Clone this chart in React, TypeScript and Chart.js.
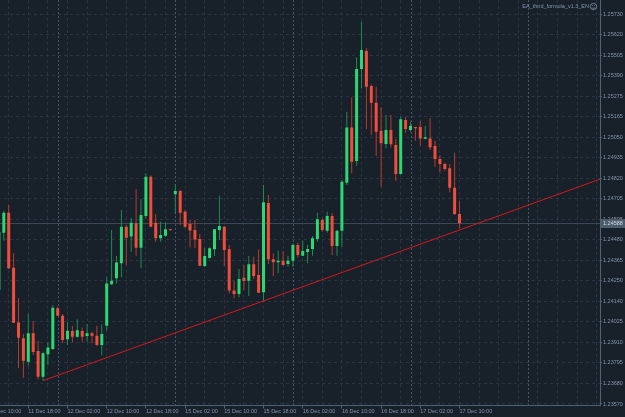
import React, { useEffect, useRef } from "react";
import { Chart, registerables } from "chart.js";

Chart.register(...registerables);

// ---- data (hourly candles, index 93 = 17 Dec 10:00) ----
const FIRST_CANDLE = -1;
const OPEN = [
  1.24201, 1.24519, 1.24629, 1.24325, 1.24022, 1.23934, 1.23804, 1.23962, 1.23864, 1.23721,
  1.23846, 1.23875, 1.24100, 1.24059, 1.23928, 1.23974, 1.23943, 1.23974, 1.23947, 1.23962,
  1.23948, 1.23897, 1.24004, 1.24233, 1.24266, 1.24349, 1.24552, 1.24497, 1.24571, 1.24436,
  1.24611, 1.24829, 1.24574, 1.24488, 1.24502, 1.24538, 1.24731, 1.24750, 1.24635, 1.24567,
  1.24534, 1.24484, 1.24334, 1.24379, 1.24427, 1.24534, 1.24552, 1.24427, 1.24198, 1.24179,
  1.24269, 1.24253, 1.24344, 1.24284, 1.24189, 1.24683, 1.24371, 1.24355, 1.24364, 1.24345,
  1.24364, 1.24451, 1.24391, 1.24412, 1.24428, 1.24484, 1.24589, 1.24530, 1.24611, 1.24445,
  1.24530, 1.24796, 1.25102, 1.24916, 1.25425, 1.25525, 1.25331, 1.25239, 1.25084, 1.25010,
  1.25087, 1.25004, 1.24844, 1.25143, 1.25087, 1.25104, 1.25104, 1.25039, 1.25041, 1.24999,
  1.24927, 1.24899, 1.24875, 1.24768, 1.24622,
];
const HIGH = [
  1.24539, 1.24639, 1.24672, 1.24405, 1.24155, 1.23959, 1.24068, 1.24030, 1.23919, 1.23860,
  1.23911, 1.24118, 1.24109, 1.24068, 1.24026, 1.24004, 1.24039, 1.23993, 1.24013, 1.23970,
  1.24004, 1.24011, 1.24272, 1.24534, 1.24390, 1.24644, 1.24561, 1.24602, 1.24761, 1.24704,
  1.24848, 1.24835, 1.24622, 1.24580, 1.24576, 1.24539, 1.24787, 1.24755, 1.24644, 1.24589,
  1.24589, 1.24511, 1.24434, 1.24438, 1.24539, 1.24724, 1.24556, 1.24451, 1.24251, 1.24318,
  1.24340, 1.24390, 1.24386, 1.24427, 1.24783, 1.24727, 1.24405, 1.24419, 1.24417, 1.24391,
  1.24460, 1.24463, 1.24474, 1.24451, 1.24500, 1.24629, 1.24598, 1.24635, 1.24626, 1.24534,
  1.24811, 1.25189, 1.25269, 1.25490, 1.25688, 1.25540, 1.25340, 1.25327, 1.25213, 1.25170,
  1.25170, 1.25038, 1.25161, 1.25161, 1.25133, 1.25106, 1.25137, 1.25110, 1.25152, 1.25028,
  1.24949, 1.24906, 1.24899, 1.24962, 1.24694,
];
const LOW = [
  1.24190, 1.24474, 1.24318, 1.24019, 1.23768, 1.23717, 1.23783, 1.23841, 1.23707, 1.23699,
  1.23786, 1.23869, 1.24057, 1.23906, 1.23897, 1.23912, 1.23937, 1.23915, 1.23915, 1.23906,
  1.23893, 1.23838, 1.23976, 1.24229, 1.24238, 1.24272, 1.24340, 1.24413, 1.24391, 1.24322,
  1.24598, 1.24549, 1.24469, 1.24469, 1.24497, 1.24531, 1.24621, 1.24561, 1.24546, 1.24437,
  1.24432, 1.24334, 1.24329, 1.24376, 1.24390, 1.24478, 1.24334, 1.24183, 1.24155, 1.24161,
  1.24201, 1.24168, 1.24262, 1.24185, 1.24137, 1.24345, 1.24279, 1.24294, 1.24336, 1.24330,
  1.24330, 1.24382, 1.24390, 1.24349, 1.24391, 1.24469, 1.24524, 1.24519, 1.24395, 1.24391,
  1.24441, 1.24783, 1.24848, 1.24890, 1.25318, 1.25093, 1.25060, 1.24945, 1.24773, 1.24986,
  1.24989, 1.24805, 1.24841, 1.25073, 1.25078, 1.25028, 1.25000, 1.25036, 1.24977, 1.24884,
  1.24851, 1.24862, 1.24742, 1.24619, 1.24543,
];
const CLOSE = [
  1.24524, 1.24629, 1.24322, 1.24020, 1.23937, 1.23810, 1.23962, 1.23858, 1.23721, 1.23851,
  1.23883, 1.24103, 1.24059, 1.23924, 1.23976, 1.23943, 1.23978, 1.23943, 1.23962, 1.23948,
  1.23897, 1.23958, 1.24238, 1.24253, 1.24353, 1.24552, 1.24491, 1.24574, 1.24436, 1.24617,
  1.24829, 1.24552, 1.24488, 1.24506, 1.24538, 1.24532, 1.24750, 1.24629, 1.24552, 1.24531,
  1.24481, 1.24336, 1.24390, 1.24432, 1.24538, 1.24556, 1.24423, 1.24198, 1.24179, 1.24262,
  1.24251, 1.24344, 1.24279, 1.24186, 1.24687, 1.24371, 1.24355, 1.24364, 1.24340, 1.24364,
  1.24451, 1.24395, 1.24417, 1.24428, 1.24488, 1.24593, 1.24534, 1.24611, 1.24445, 1.24530,
  1.24801, 1.25102, 1.24912, 1.25425, 1.25530, 1.25327, 1.25239, 1.25078, 1.25014, 1.25087,
  1.25008, 1.24844, 1.25147, 1.25093, 1.25110, 1.25097, 1.25041, 1.25047, 1.24992, 1.24927,
  1.24899, 1.24871, 1.24768, 1.24621, 1.24571,
];

const TIME_LABELS = [
  "11 Dec 10:00", "11 Dec 18:00", "12 Dec 02:00", "12 Dec 10:00", "12 Dec 18:00",
  "15 Dec 02:00", "15 Dec 10:00", "15 Dec 18:00", "16 Dec 02:00", "16 Dec 10:00",
  "16 Dec 18:00", "17 Dec 02:00", "17 Dec 10:00",
];
const TIME_LABEL_FIRST = -3;
const TIME_LABEL_STEP = 8;
const GRID_FIRST = -3;
const GRID_LAST = 121;
const GRID_STEP = 4;
const DAY_STARTS = [11, 35, 59, 83, 107];

const PRICE_LABELS = [
  "1.23570", "1.23680", "1.23795", "1.23910", "1.24025", "1.24140", "1.24250",
  "1.24365", "1.24480", "1.24595", "1.24705", "1.24820", "1.24935", "1.25050",
  "1.25165", "1.25275", "1.25390", "1.25505", "1.25620", "1.25730",
];

const TREND = [
  { x: 8, y: 1.23699 },
  { x: 125, y: 1.24848 },
];
const BID_TEXT = "1.24588";
const TITLE = "EA_third_formula_v1.3_EN";

// ---- layout / style ----
const SHIFT = 20; // canvas extends this far left of the window
const W = 625 + SHIFT;
const H = 417;
const X_MIN = -4.857;
const X_MAX = 121.673;
const Y_MIN = 1.2356169;
const Y_MAX = 1.2580754;

const BG = "#18202a";
const GRID = "#2a3543";
const SEP = "#44566a";
const AXIS = "#4f6174";
const TEXT = "#8496ab";
const UP = "#2bd873";
const UP_WICK = "#1f8a50";
const DOWN = "#f04e3c";
const DOWN_WICK = "#b83c2e";
const TREND_COLOR = "#d41a1a";
const BID_LINE = "#3a4755";
const FONT = "'Liberation Sans', Arial, sans-serif";

function timeLabel(v: number): string {
  const k = (v - TIME_LABEL_FIRST) / TIME_LABEL_STEP;
  if (Number.isInteger(k) && k >= 0 && k < TIME_LABELS.length) return TIME_LABELS[k];
  return "";
}

export default function App() {
  const ref = useRef<HTMLCanvasElement>(null);

  useEffect(() => {
    if (!ref.current) return;
    const idx = OPEN.map((_, i) => FIRST_CANDLE + i);
    const isUp = OPEN.map((o, i) => CLOSE[i] >= o);
    const wickData = idx.map((x, i) => ({ x, y: [LOW[i], HIGH[i]] }));
    const bodyData = idx.map((x, i) => ({ x, y: [OPEN[i], CLOSE[i]] }));

    const gridTicks: number[] = [];
    for (let v = GRID_FIRST; v <= GRID_LAST; v += GRID_STEP) gridTicks.push(v);
    const p0 = parseFloat(PRICE_LABELS[0]);
    const p1 = parseFloat(PRICE_LABELS[PRICE_LABELS.length - 1]);
    const priceTicks = PRICE_LABELS.map((_, k) => p0 + ((p1 - p0) * k) / (PRICE_LABELS.length - 1));
    const bid = CLOSE[CLOSE.length - 1];

    const decor = {
      id: "decor",
      beforeDraw(chart: any) {
        const c = chart.ctx;
        c.save();
        c.fillStyle = BG;
        c.fillRect(0, 0, chart.width, chart.height);
        c.restore();
      },
      beforeDatasetsDraw(chart: any) {
        const c = chart.ctx;
        const a = chart.chartArea;
        const xs = chart.scales.x;
        const ys = chart.scales.y;
        c.save();
        c.beginPath();
        c.rect(a.left, a.top, a.right - a.left, a.bottom - a.top);
        c.clip();
        c.strokeStyle = SEP;
        c.lineWidth = 1;
        c.setLineDash([2, 2]);
        DAY_STARTS.forEach((d) => {
          const px = Math.round(xs.getPixelForValue(d)) + 0.5;
          c.beginPath();
          c.moveTo(px, a.top);
          c.lineTo(px, a.bottom);
          c.stroke();
        });
        c.setLineDash([]);
        c.strokeStyle = BID_LINE;
        const py = Math.round(ys.getPixelForValue(bid)) + 0.5;
        c.beginPath();
        c.moveTo(a.left, py);
        c.lineTo(a.right, py);
        c.stroke();
        c.restore();
      },
      afterDraw(chart: any) {
        const c = chart.ctx;
        const a = chart.chartArea;
        const ys = chart.scales.y;
        c.save();
        // bid price label
        const py = Math.round(ys.getPixelForValue(bid));
        c.fillStyle = "#4e5d6d";
        c.fillRect(a.right + 1, py - 4, chart.width - a.right - 1, 9);
        c.fillStyle = "#d3dbe4";
        c.font = `5.5px ${FONT}`;
        c.textBaseline = "middle";
        c.textAlign = "left";
        c.fillText(BID_TEXT, a.right + 3, py + 0.5);
        // indicator title with smiley
        c.fillStyle = TEXT;
        c.textAlign = "right";
        c.fillText(TITLE, SHIFT + 589, 6.5);
        const cx = SHIFT + 593.5;
        const cy = 6.5;
        c.strokeStyle = TEXT;
        c.lineWidth = 0.8;
        c.beginPath();
        c.arc(cx, cy, 3.2, 0, Math.PI * 2);
        c.stroke();
        c.beginPath();
        c.arc(cx, cy + 0.3, 1.6, 0.15 * Math.PI, 0.85 * Math.PI);
        c.stroke();
        c.fillRect(cx - 1.3, cy - 1.3, 0.8, 0.8);
        c.fillRect(cx + 0.5, cy - 1.3, 0.8, 0.8);
        c.restore();
      },
    };

    const chart = new Chart(ref.current, {
      type: "bar",
      data: {
        datasets: [
          {
            type: "line",
            data: TREND as any,
            borderColor: TREND_COLOR,
            borderWidth: 1,
            pointRadius: 0,
            order: 0,
          } as any,
          {
            type: "bar",
            data: bodyData as any,
            backgroundColor: isUp.map((u) => (u ? UP : DOWN)),
            barThickness: 3,
            grouped: false,
            inflateAmount: 0,
            borderWidth: 0,
            minBarLength: 1,
            order: 1,
          } as any,
          {
            type: "bar",
            data: wickData as any,
            backgroundColor: isUp.map((u) => (u ? UP_WICK : DOWN_WICK)),
            barThickness: 1,
            grouped: false,
            inflateAmount: 0,
            borderWidth: 0,
            order: 2,
          } as any,
        ],
      },
      options: {
        responsive: false,
        animation: false,
        devicePixelRatio: 1,
        events: [],
        layout: { padding: 0, autoPadding: false } as any,
        plugins: {
          legend: { display: false },
          tooltip: { enabled: false },
        },
        scales: {
          x: {
            type: "linear",
            position: "bottom",
            min: X_MIN,
            max: X_MAX,
            offset: false,
            afterBuildTicks: (s: any) => {
              s.ticks = gridTicks.map((v) => ({ value: v }));
            },
            afterFit: (s: any) => {
              s.height = 11.5;
              s.paddingLeft = 0;
              s.paddingRight = 0;
            },
            ticks: {
              autoSkip: false,
              maxRotation: 0,
              minRotation: 0,
              align: "start",
              padding: 0,
              color: TEXT,
              font: { family: FONT, size: 5.5 },
              callback: (v: any) => timeLabel(Number(v)),
            },
            grid: {
              offset: false,
              color: GRID,
              lineWidth: 1,
              drawTicks: true,
              tickLength: 3,
              tickColor: (ctx: any) =>
                ctx.tick && timeLabel(ctx.tick.value) ? AXIS : "rgba(0,0,0,0)",
            },
            border: { display: true, color: AXIS, width: 1, dash: [3, 3] },
          } as any,
          y: {
            type: "linear",
            position: "right",
            min: Y_MIN,
            max: Y_MAX,
            afterBuildTicks: (s: any) => {
              s.ticks = priceTicks.map((v) => ({ value: v }));
            },
            afterFit: (s: any) => {
              s.width = 25;
              s.paddingTop = 0;
              s.paddingBottom = 0;
            },
            ticks: {
              padding: 1,
              color: TEXT,
              font: { family: FONT, size: 5.5 },
              callback: (_v: any, i: number) => PRICE_LABELS[i],
            },
            grid: { color: GRID, lineWidth: 1, tickLength: 2, tickColor: AXIS },
            border: { display: true, color: AXIS, width: 1, dash: [3, 3] },
          } as any,
        },
      },
      plugins: [decor],
    });
    return () => chart.destroy();
  }, []);

  return (
    <div
      style={{
        position: "fixed",
        left: -SHIFT,
        top: 0,
        width: W,
        height: H,
        background: BG,
        overflow: "hidden",
      }}
    >
      <canvas ref={ref} width={W} height={H} style={{ display: "block", width: W, height: H }} />
    </div>
  );
}
